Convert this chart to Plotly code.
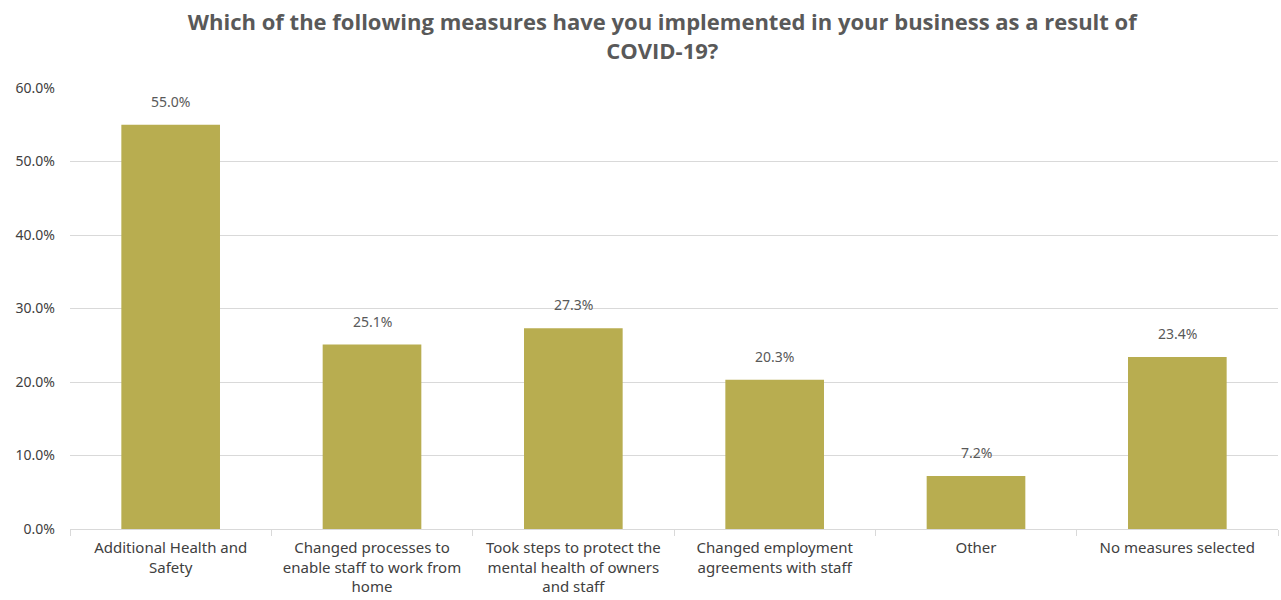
import plotly.graph_objects as go

categories = [
    "Additional Health and<br>Safety",
    "Changed processes to<br>enable staff to work from<br>home",
    "Took steps to protect the<br>mental health of owners<br>and staff",
    "Changed employment<br>agreements with staff",
    "Other",
    "No measures selected",
]
values = [0.550, 0.251, 0.273, 0.203, 0.072, 0.234]
value_labels = ["55.0%", "25.1%", "27.3%", "20.3%", "7.2%", "23.4%"]

bar_color = "#b8ad50"
text_color = "#404040"

fig = go.Figure(
    go.Bar(
        x=categories,
        y=values,
        marker=dict(color=bar_color, line=dict(width=0)),
        width=0.49,
        hoverinfo="x+y",
    )
)

# value labels sit a little above each bar
for cat, val, lab in zip(categories, values, value_labels):
    fig.add_annotation(
        x=cat,
        y=val,
        text=lab,
        showarrow=False,
        yanchor="bottom",
        yshift=12,
        font=dict(family="Noto Sans", size=14, color="#595959"),
    )

fig.update_layout(
    width=1281,
    height=600,
    margin=dict(l=70, r=3, t=88, b=71),
    paper_bgcolor="white",
    plot_bgcolor="white",
    showlegend=False,
    title=dict(
        text="Which of the following measures have you implemented in your business as a result of<br>COVID-19?",
        x=0.517,
        xanchor="center",
        yref="container",
        y=0.95,
        yanchor="top",
        font=dict(family="Open Sans", size=22, color="#595959", weight="bold"),
    ),
    font=dict(family="Noto Sans", size=14, color=text_color),
)

fig.update_yaxes(
    range=[0, 0.6],
    dtick=0.1,
    tickformat=".1%",
    showgrid=True,
    gridcolor="#d9d9d9",
    gridwidth=1,
    zeroline=False,
    showline=False,
    ticks="",
    automargin=False,
    ticklabelstandoff=14,
    tickfont=dict(family="Noto Sans", size=14, color=text_color),
)

fig.update_xaxes(
    showline=True,
    linecolor="#d9d9d9",
    linewidth=1,
    ticks="outside",
    tickson="boundaries",
    ticklen=6,
    tickcolor="#d9d9d9",
    tickangle=0,
    automargin=False,
    ticklabelstandoff=5,
    tickfont=dict(family="Noto Sans", size=15, color=text_color),
)

fig.write_html("out.html")
